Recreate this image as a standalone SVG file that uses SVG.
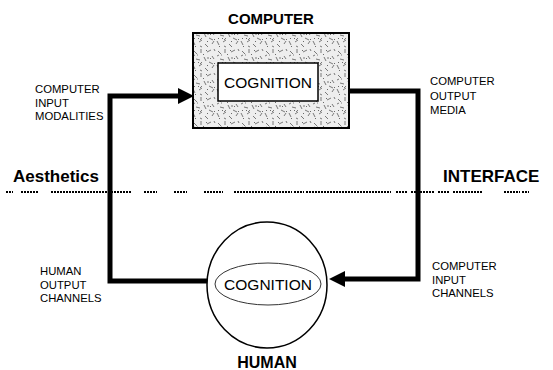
<svg xmlns="http://www.w3.org/2000/svg" width="553" height="370" viewBox="0 0 553 370">
<style>
.lbl{font-family:"Liberation Sans",Arial,sans-serif;font-size:11.3px;fill:#000}
.ttl{font-family:"Liberation Sans",Arial,sans-serif;font-weight:bold;fill:#000}
.cog{font-family:"Liberation Sans",Arial,sans-serif;font-size:15.5px;fill:#000;text-anchor:middle}
.conn{fill:none;stroke:#000;stroke-width:5;stroke-linejoin:miter}
.seg{fill:url(#dot)}
</style>
<defs>
<pattern id="dot" x="0" y="191" width="3" height="2" patternUnits="userSpaceOnUse">
<rect width="2" height="2" fill="#000"/>
</pattern>
<pattern id="tex" width="24" height="24" patternUnits="userSpaceOnUse">
<rect width="24" height="24" fill="#eeeeee"/>
<g stroke="#5a5a5a" stroke-width="0.8" fill="none">
<path d="M2,3 l3,3 M9,1 l0,4 M15,4 l4,-2 M20,8 l2,3 M4,11 l4,1 M12,9 l2,4 M17,14 l4,2 M1,17 l2,4 M7,18 l3,-2 M13,20 l3,3 M20,20 l2,-3 M10,14 l-2,2 M5,7 l1,0 M22,1 l1,2 M16,9 l0,2 M1,8 l2,-1 M8,22 l2,1"/>
</g>
<g fill="#6a6a6a">
<rect x="6" y="14" width="1" height="1"/><rect x="18" y="10" width="1" height="1"/><rect x="3" y="22" width="1" height="1"/><rect x="14" y="2" width="1" height="1"/><rect x="11" y="6" width="1" height="1"/><rect x="22" y="15" width="1" height="1"/><rect x="15" y="17" width="1" height="1"/><rect x="2" y="14" width="1" height="1"/>
</g>
</pattern>
<marker id="arr" markerUnits="userSpaceOnUse" markerWidth="16" markerHeight="16" viewBox="0 0 16 16" refX="0" refY="8" orient="auto">
<path d="M0,0 L16,8 L0,16 z" fill="#000"/>
</marker>
</defs>
<rect width="553" height="370" fill="#fff"/>

<g id="interface-line">
<rect class="seg" x="6" y="191" width="7" height="2"/>
<rect class="seg" x="21" y="191" width="17" height="2"/>
<rect class="seg" x="51" y="191" width="80" height="2"/>
<rect class="seg" x="144" y="191" width="13" height="2"/>
<rect class="seg" x="174" y="191" width="13" height="2"/>
<rect class="seg" x="204" y="191" width="19" height="2"/>
<rect class="seg" x="234" y="191" width="58" height="2"/>
<rect class="seg" x="294" y="191" width="10" height="2"/>
<rect class="seg" x="306" y="191" width="80" height="2"/>
<rect class="seg" x="387" y="191" width="4" height="2"/>
<rect class="seg" x="396" y="191" width="11" height="2"/>
<rect class="seg" x="410" y="191" width="25" height="2"/>
<rect class="seg" x="438" y="191" width="11" height="2"/>
<rect class="seg" x="452" y="191" width="31" height="2"/>
<rect class="seg" x="504" y="191" width="16" height="2"/>
<rect class="seg" x="522" y="191" width="7" height="2"/>
<text class="ttl" x="13" y="182" font-size="17">Aesthetics</text>
<text class="ttl" x="443" y="182" font-size="17">INTERFACE</text>
</g>

<g id="connectors">
<path class="conn" d="M207,281 H110 V96 H178" marker-end="url(#arr)"/>
<path class="conn" d="M349,91 H418 V279 H345" marker-end="url(#arr)"/>
</g>

<g id="computer">
<text class="ttl" x="271" y="24" font-size="15" text-anchor="middle">COMPUTER</text>
<rect x="193" y="33" width="156" height="95" fill="url(#tex)" stroke="#000" stroke-width="2"/>
<rect x="218" y="63" width="100" height="38" fill="#fff" stroke="#000" stroke-width="1.5"/>
<text class="cog" x="268" y="88">COGNITION</text>
</g>

<g id="human">
<ellipse cx="267" cy="285" rx="60" ry="63" fill="#fff" stroke="#000" stroke-width="1.5"/>
<ellipse cx="268" cy="284" rx="53" ry="21" fill="none" stroke="#333" stroke-width="1"/>
<text class="cog" x="268" y="290">COGNITION</text>
<text class="ttl" x="267" y="368" font-size="16" text-anchor="middle">HUMAN</text>
</g>

<g id="label-computer-input-modalities">
<text class="lbl" x="35" y="93">COMPUTER</text>
<text class="lbl" x="35" y="106.5">INPUT</text>
<text class="lbl" x="35" y="120">MODALITIES</text>
</g>
<g id="label-computer-output-media">
<text class="lbl" x="430" y="85">COMPUTER</text>
<text class="lbl" x="430" y="99.5">OUTPUT</text>
<text class="lbl" x="430" y="114">MEDIA</text>
</g>
<g id="label-human-output-channels">
<text class="lbl" x="40" y="275">HUMAN</text>
<text class="lbl" x="40" y="288.5">OUTPUT</text>
<text class="lbl" x="40" y="302">CHANNELS</text>
</g>
<g id="label-computer-input-channels">
<text class="lbl" x="432" y="270">COMPUTER</text>
<text class="lbl" x="432" y="283.5">INPUT</text>
<text class="lbl" x="432" y="297">CHANNELS</text>
</g>
</svg>
